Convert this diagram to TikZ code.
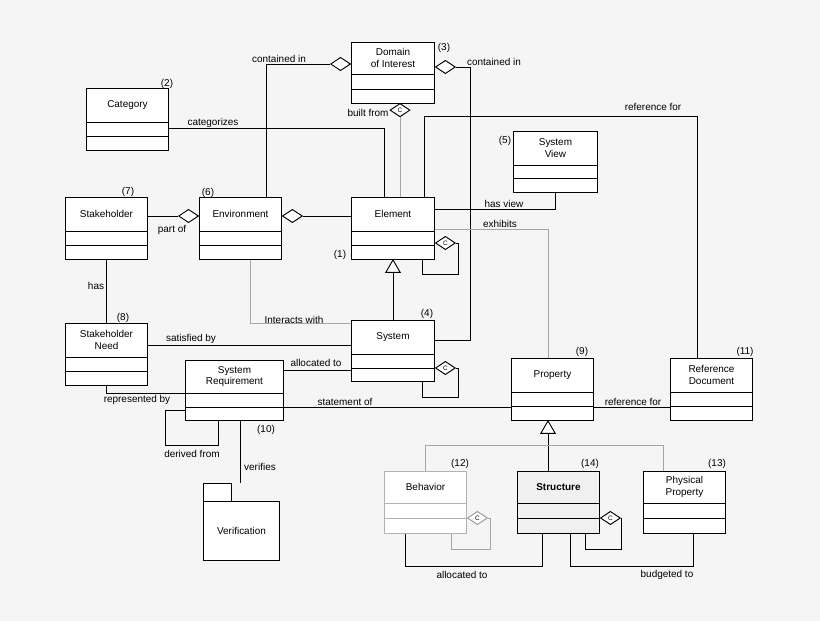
\documentclass[tikz,border=0pt]{standalone}
\usepackage{fontspec}
\setmainfont{Liberation Sans}
\usetikzlibrary{shapes.geometric,calc}

\tikzset{
  cls/.style = {draw, rectangle, anchor=north west, inner sep=0pt, fill=white},
  lbl/.style = {font=\fontsize{8.5}{10}\selectfont, inner sep=1pt},
  num/.style = {font=\fontsize{8.5}{10}\selectfont, inner sep=1pt},
  agg/.style = {draw, diamond, fill=white, inner sep=0pt, minimum width=0.6cm, minimum height=0.4cm, font=\fontsize{5.5}{5.5}\selectfont},
  gen/.style = {draw, regular polygon, regular polygon sides=3, fill=white, inner sep=0pt, minimum size=0.5cm},
  soft/.style = {gray!70},
}
% class box: name, x, y, width, height, first line, second line, text, options
\newcommand{\umlcls}[9]{
  \node[cls, #9, minimum width={#4*0.03cm}, minimum height={#5*0.03cm}] (#1) at (#2,#3) {};
  \draw[#9] ($(#1.north west)+(0,#6)$) -- ++(#4,0);
  \draw[#9] ($(#1.north west)+(0,#7)$) -- ++(#4,0);
  \node[lbl, align=center] (#1t) at ($(#1.north)+(0,#6/2)$) {#8};
}

\begin{document}
\begin{tikzpicture}[x=0.03cm, y=-0.03cm, line width=0.8pt]
  \fill[gray!8] (0,0) rectangle (820,621);
  \useasboundingbox (0,0) rectangle (820,621);

  \umlcls{dom}{351}{42}{83}{61}{32}{47}{Domain\\of Interest}{draw}
  \umlcls{cat}{86}{88}{82}{62}{34}{48}{Category}{draw}
  \umlcls{view}{513}{131}{84}{61}{34}{47}{System\\View}{draw}
  \umlcls{stake}{65}{197}{82}{62}{34}{48}{Stakeholder}{draw}
  \umlcls{env}{199}{197}{82}{62}{34}{48}{Environment}{draw}
  \umlcls{elem}{351}{197}{83}{62}{34}{48}{Element}{draw}
  \umlcls{need}{65}{323}{82}{62}{34}{48}{Stakeholder\\Need}{draw}
  \umlcls{sys}{351}{320}{83}{61}{34}{48}{System}{draw}
  \umlcls{req}{185}{360}{98}{60}{33}{47}{System\\Requirement}{draw}
  \umlcls{prop}{511}{358}{82}{62}{34}{48}{Property}{draw}
  \umlcls{ref}{670}{358}{82}{62}{34}{48}{Reference\\Document}{draw}
  \umlcls{beh}{384}{471}{82}{62}{32}{47}{Behavior}{draw=gray!60}
  \umlcls{str}{517}{471}{82}{62}{32}{47}{\textbf{Structure}}{draw, fill=gray!12}
  \umlcls{phys}{643}{471}{82}{62}{32}{47}{Physical\\Property}{draw}

  % verification package
  \node[cls, minimum width=0.84cm, minimum height=0.54cm] (vtab) at (203,483) {};
  \node[cls, minimum width=2.28cm, minimum height=1.77cm, font=\fontsize{8.5}{10}\selectfont] (ver) at (203,501) {Verification};

  % numbers
  \node[num] (n1) at (340,255) {(1)};
  \node[num] (n2) at (167,84) {(2)};
  \node[num] (n3) at (444,48) {(3)};
  \node[num] (n4) at (427,314) {(4)};
  \node[num] (n5) at (505,141) {(5)};
  \node[num] (n6) at (208,193) {(6)};
  \node[num] (n7) at (128,192) {(7)};
  \node[num] (n8) at (123,318) {(8)};
  \node[num] (n9) at (582,352) {(9)};
  \node[num] (n10) at (266,430) {(10)};
  \node[num] (n11) at (745,352) {(11)};
  \node[num] (n12) at (460,464) {(12)};
  \node[num] (n13) at (717,464) {(13)};
  \node[num] (n14) at (590,464) {(14)};

  % diamonds
  \node[agg, anchor=east] (dEnvDom) at (dom.west |- 0,64) {};
  \node[agg, anchor=west] (dSysDom) at (dom.east |- 0,67) {};
  \node[agg, anchor=north] (dElemDom) at (400,103) {C};
  \node[agg, anchor=east] (dStEnv) at (env.west |- 0,216) {};
  \node[agg, anchor=west] (dElEnv) at (env.east |- 0,216) {};
  \node[agg, anchor=west] (dElem) at (elem.east |- 0,243) {C};
  \node[agg, anchor=west] (dSys) at (sys.east |- 0,368) {C};
  \node[agg, anchor=west, draw=gray!80] (dBeh) at (beh.east |- 0,518) {C};
  \node[agg, anchor=west] (dStr) at (str.east |- 0,518) {C};

  % triangles
  \node[gen, anchor=corner 1] (gElem) at (393,259) {};
  \node[gen, anchor=corner 1] (gProp) at (548,420) {};

  % connectors
  \draw (env.north -| 266,0) |- (dEnvDom.west);
  \draw (dSysDom.east) -- (470,67) |- (sys.east |- 0,340);
  \draw[soft] (dElemDom.south) -- (elem.north -| 400,0);
  \draw (cat.east |- 0,128) -| (elem.north -| 384,0);
  \draw (elem.north -| 424,0) |- (697,116) -- (ref.north -| 697,0);
  \draw (elem.east |- 0,209) -| (view.south -| 555,0);
  \draw[soft] (elem.east |- 0,229) -| (prop.north -| 548,0);
  \draw (dElem.east) -- (458,243) |- (422,274) -- (elem.south -| 422,0);
  \draw (stake.east |- 0,216) -- (dStEnv.west);
  \draw (dElEnv.east) -- (elem.west |- 0,216);
  \draw (sys.north -| 393,0) -- (gElem.side 2);
  \draw[soft] (env.south -| 250,0) |- (sys.west |- 0,323);
  \draw (stake.south) -- (need.north);
  \draw (need.east |- 0,345) -- (sys.west |- 0,345);
  \draw (req.east |- 0,370) -- (sys.west |- 0,370);
  \draw (dSys.east) -- (458,368) |- (422,397) -- (sys.south -| 422,0);
  \draw (need.south) |- (req.west |- 0,393);
  \draw (req.east |- 0,407) -- (prop.west |- 0,407);
  \draw (req.south -| 218,0) |- (165,445) |- (req.west |- 0,410);
  \draw (req.south -| 240,0) -- (vtab.north -| 240,0);
  \draw (prop.east |- 0,407) -- (ref.west |- 0,407);
  \draw (gProp.side 2) -- (str.north -| 548,0);
  \draw[soft] (beh.north -| 425,0) |- (663,445) -- (phys.north -| 663,0);
  \draw[soft] (dBeh.east) -- (490,518) |- (451,549) -- (beh.south -| 451,0);
  \draw (dStr.east) -- (621,518) |- (585,549) -- (str.south -| 585,0);
  \draw (beh.south -| 405,0) |- (542,566) -- (str.south -| 542,0);
  \draw (str.south -| 570,0) |- (693,566) -- (phys.south -| 693,0);

  % connector labels
  \node[lbl] (lContA) at (279,59) {contained in};
  \node[lbl] (lContB) at (494,62) {contained in};
  \node[lbl] (lBuilt) at (368,113) {built from};
  \node[lbl] (lCateg) at (213,123) {categorizes};
  \node[lbl] (lRefA) at (653,107) {reference for};
  \node[lbl] (lView) at (504,204) {has view};
  \node[lbl] (lExh) at (500,224) {exhibits};
  \node[lbl] (lPart) at (172,230) {part of};
  \node[lbl] (lInter) at (294,320) {Interacts with};
  \node[lbl] (lHas) at (96,286) {has};
  \node[lbl] (lSat) at (191,339) {satisfied by};
  \node[lbl] (lAllocA) at (316,363) {allocated to};
  \node[lbl] (lRepr) at (137,400) {represented by};
  \node[lbl] (lStmt) at (345,402) {statement of};
  \node[lbl] (lRefB) at (633,402) {reference for};
  \node[lbl] (lDeriv) at (192,454) {derived from};
  \node[lbl] (lVer) at (260,467) {verifies};
  \node[lbl] (lAllocB) at (462,575) {allocated to};
  \node[lbl] (lBudg) at (667,575) {budgeted to};
\end{tikzpicture}
\end{document}
